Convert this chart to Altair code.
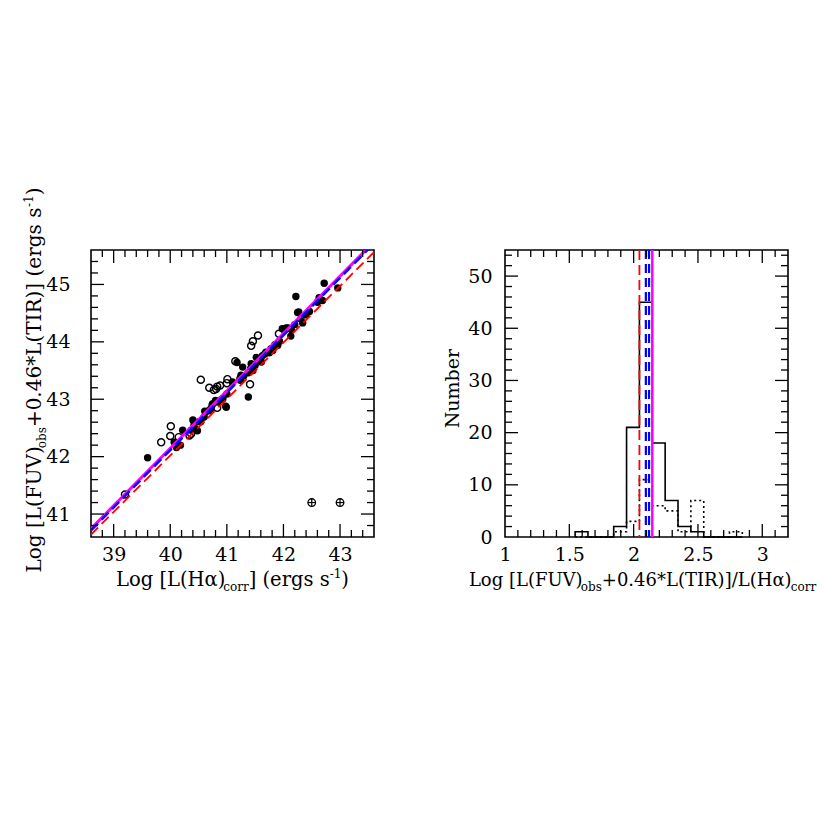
import altair as alt
import pandas as pd

# ---------------- data ----------------
filled_x = [39.60, 40.07, 40.11, 40.12, 40.18, 40.22, 40.37, 40.40, 40.42, 40.46,
            40.48, 40.51, 40.54, 40.60, 40.61, 40.63, 40.68, 40.72, 40.74, 40.75,
            40.80, 40.84, 40.91, 40.93, 40.98, 40.99, 41.00, 41.10, 41.18, 41.24,
            41.25, 41.28, 41.30, 41.38, 41.38, 41.42, 41.43, 41.46, 41.50, 41.52,
            41.55, 41.60, 41.61, 41.63, 41.67, 41.69, 41.75, 41.78, 41.81, 41.85,
            41.90, 41.93, 41.98, 42.05, 42.08, 42.13, 42.14, 42.20, 42.22, 42.25,
            42.27, 42.31, 42.34, 42.40, 42.46, 42.60, 42.63, 42.69, 42.72, 42.96]
filled_y = [41.98, 42.25, 42.16, 42.23, 42.20, 42.46, 42.46, 42.64, 42.55, 42.47,
            42.45, 42.61, 42.61, 42.69, 42.79, 42.78, 42.80, 42.84, 42.90, 42.92,
            42.98, 42.95, 43.00, 43.01, 42.88, 42.86, 43.09, 43.30, 43.64, 43.33,
            43.42, 43.56, 43.41, 43.04, 43.46, 43.53, 43.62, 43.50, 43.59, 43.73,
            43.70, 43.67, 43.65, 43.76, 43.79, 43.82, 43.81, 43.88, 43.85, 43.95,
            43.94, 44.01, 44.23, 44.24, 44.24, 44.10, 44.21, 44.30, 44.79, 44.51,
            44.52, 44.40, 44.33, 44.47, 44.53, 44.69, 44.77, 44.72, 45.02, 44.94]
open_x = [39.20, 39.84, 40.00, 40.01, 40.15, 40.34, 40.37, 40.54, 40.69, 40.77,
          40.81, 40.83, 40.83, 40.88, 41.00, 41.01, 41.15, 41.24, 41.41, 41.43,
          41.46, 41.55, 41.92]
open_y = [41.34, 42.25, 42.36, 42.53, 42.34, 42.37, 42.40, 43.34, 43.20, 43.16,
          43.18, 43.22, 42.85, 43.24, 43.28, 43.35, 43.66, 43.36, 43.26, 43.93,
          44.01, 44.11, 44.14]
errbar_x = [42.5, 43.0]
errbar_y = [41.2, 41.2]
errbar_dx = [0.07, 0.07]
errbar_dy = [0.07, 0.07]

fit_slope = [1.0, 1.0, 0.984]          # magenta, blue, red
fit_intercept = [2.145, 2.115, 2.66]

hist_edges = [1.545, 1.645, 1.745, 1.845, 1.945, 2.045, 2.145, 2.245, 2.345,
              2.445, 2.545, 2.645, 2.745, 2.845]
hist_all = [1, 0, 0, 2, 21, 45, 18, 7, 2, 1, 0, 0, 0]
hist_sub = [0, 0, 0, 1, 3, 11, 6, 5, 1, 7, 0, 0, 1]
ratio_lines = [2.145, 2.12, 2.095, 2.045]   # magenta, blue, blue, red

left_x_ticks = [39, 40, 41, 42, 43]
left_y_ticks = [41, 42, 43, 44, 45]
right_x_ticks = [1, 1.5, 2, 2.5, 3]
right_y_ticks = [0, 10, 20, 30, 40, 50]

# ---------------- styling ----------------
FONT = "DejaVu Serif"
SS = 12
W, H = 283, 287
MAJ, MIN = 13, 7

line_styles = [
    dict(color="#ff00ff", strokeWidth=3),
    dict(color="#0000ff", strokeWidth=2.5, strokeDash=[10, 5]),
    dict(color="#ff0000", strokeWidth=1.8, strokeDash=[10, 5]),
]
vline_styles = [
    dict(color="#ff00ff", strokeWidth=2.5),
    dict(color="#0000ff", strokeWidth=2.2, strokeDash=[9, 5]),
    dict(color="#0000ff", strokeWidth=2.2, strokeDash=[9, 5]),
    dict(color="#ff0000", strokeWidth=1.8, strokeDash=[10, 5]),
]

EM = {' ': 0.318, '(': 0.390, ')': 0.390, '[': 0.390, ']': 0.390, 'L': 0.637,
      'o': 0.602, 'g': 0.640, 'H': 0.837, 'α': 0.659, 'c': 0.560, 'r': 0.478,
      'e': 0.592, 's': 0.513, '-': 0.338, '1': 0.636, 'F': 0.677, 'U': 0.812,
      'V': 0.722, 'b': 0.640, '+': 0.838, '0': 0.636, '.': 0.318, '4': 0.636,
      '6': 0.636, '*': 0.500, 'T': 0.682, 'I': 0.421, 'R': 0.770, '/': 0.337}


def seg_w(t, size):
    return sum(EM.get(ch, 0.6) for ch in t) * size


def title_layers(segs, cx, cy, ts, rotated=False):
    sizes = [ts if k == "n" else SS for _, k in segs]
    total = sum(seg_w(t, s) for (t, _), s in zip(segs, sizes))
    out, off = [], 0.0
    for (t, k), s in zip(segs, sizes):
        shift = 0 if k == "n" else (5 if k == "sub" else -8)
        kw = dict(align="left", baseline="alphabetic", font=FONT, fontSize=s, color="black")
        if rotated:
            x, y = cx + shift, cy + total / 2 - off
            kw["angle"] = 270
        else:
            x, y = cx - total / 2 + off, cy + shift
        out.append(alt.Chart(pd.DataFrame({"t": [t]})).mark_text(**kw).encode(
            x=alt.value(x), y=alt.value(y), text="t:N"))
        off += seg_w(t, s)
    return out


def tick_layers(xmaj, xmin, ymaj, ymin, xs, ys, axx, axy):
    out = []
    for vals, L in ((xmaj, MAJ), (xmin, MIN)):
        base = alt.Chart(pd.DataFrame({"v": vals})).mark_rule(color="black", strokeWidth=1.3)
        xe = alt.X("v:Q", scale=xs, axis=axx)
        out.append(base.encode(x=xe, y=alt.value(H), y2=alt.value(H - L)))
        out.append(base.encode(x=xe, y=alt.value(0), y2=alt.value(L)))
    for vals, L in ((ymaj, MAJ), (ymin, MIN)):
        base = alt.Chart(pd.DataFrame({"v": vals})).mark_rule(color="black", strokeWidth=1.3)
        ye = alt.Y("v:Q", scale=ys, axis=axy)
        out.append(base.encode(y=ye, x=alt.value(0), x2=alt.value(L)))
        out.append(base.encode(y=ye, x=alt.value(W), x2=alt.value(W - L)))
    return out


def frange(a, b, step):
    n = int(round((b - a) / step))
    return [round(a + i * step, 4) for i in range(n + 1)]


# ---------------- left panel ----------------
xs1 = alt.Scale(domain=[38.6, 43.6], nice=False, zero=False)
ys1 = alt.Scale(domain=[40.6, 45.6], nice=False, zero=False)
ax1 = alt.Axis(values=left_x_ticks, title=None, labelPadding=8, format="d")
ay1 = alt.Axis(values=left_y_ticks, title=None, labelPadding=21, format="d")


def X1(f):
    return alt.X(f, scale=xs1, axis=ax1)


def Y1(f):
    return alt.Y(f, scale=ys1, axis=ay1)


filled_df = pd.DataFrame({"x": filled_x, "y": filled_y})
open_df = pd.DataFrame({"x": open_x, "y": open_y})

pts = [
    alt.Chart(filled_df).mark_circle(size=55, color="black", opacity=1).encode(
        x=X1("x:Q"), y=Y1("y:Q")),
    alt.Chart(open_df).mark_point(shape="circle", filled=False, size=50, color="black",
                                  strokeWidth=1.4, opacity=1).encode(
        x=X1("x:Q"), y=Y1("y:Q")),
]
err_df = pd.DataFrame({"x": errbar_x, "y": errbar_y})
err_df["xlo"] = [a - d for a, d in zip(errbar_x, errbar_dx)]
err_df["xhi"] = [a + d for a, d in zip(errbar_x, errbar_dx)]
err_df["ylo"] = [a - d for a, d in zip(errbar_y, errbar_dy)]
err_df["yhi"] = [a + d for a, d in zip(errbar_y, errbar_dy)]
err = [
    alt.Chart(err_df).mark_point(shape="circle", filled=False, size=58, color="black",
                                 strokeWidth=1.3, opacity=1).encode(
        x=X1("x:Q"), y=Y1("y:Q")),
    alt.Chart(err_df).mark_rule(color="black", strokeWidth=1.2).encode(
        x=X1("xlo:Q"), x2="xhi:Q", y=Y1("y:Q")),
    alt.Chart(err_df).mark_rule(color="black", strokeWidth=1.2).encode(
        x=X1("x:Q"), y=Y1("ylo:Q"), y2="yhi:Q"),
]

fit_layers = []
for sl, ic, st in zip(fit_slope, fit_intercept, line_styles):
    dfl = pd.DataFrame({"x": [38.6, 43.6]})
    dfl["y"] = sl * dfl["x"] + ic
    fit_layers.append(alt.Chart(dfl).mark_line(clip=True, **st).encode(
        x=X1("x:Q"), y=Y1("y:Q")))

x1_minor = [v for v in frange(38.8, 43.4, 0.2) if abs(v - round(v)) > 0.01]
y1_minor = [v for v in frange(40.8, 45.4, 0.2) if abs(v - round(v)) > 0.01]

left_titles = title_layers(
    [("Log [L(Hα)", "n"), ("corr", "sub"), ("] (ergs s", "n"), ("-1", "sup"), (")", "n")],
    W / 2, 336, 19.5)
left_titles += title_layers(
    [("Log [L(FUV)", "n"), ("obs", "sub"), ("+0.46*L(TIR)] (ergs s", "n"), ("-1", "sup"), (")", "n")],
    -50, 130, 20, rotated=True)

left = alt.layer(*pts, *err, *fit_layers,
                 *tick_layers(left_x_ticks, x1_minor, left_y_ticks, y1_minor, xs1, ys1, ax1, ay1),
                 *left_titles).properties(width=W, height=H)

# ---------------- right panel ----------------
xs2 = alt.Scale(domain=[1, 3.2], nice=False, zero=False)
ys2 = alt.Scale(domain=[0, 55], nice=False, zero=False)
ax2 = alt.Axis(values=right_x_ticks, title=None, labelPadding=8, format="~g")
ay2 = alt.Axis(values=right_y_ticks, title=None, labelPadding=13, format="d")


def X2(f):
    return alt.X(f, scale=xs2, axis=ax2)


def Y2(f):
    return alt.Y(f, scale=ys2, axis=ay2)


def step_df(edges, counts):
    xs_, ys_ = [edges[0]], [0]
    for e, c in zip(edges[:-1], counts):
        xs_.append(e)
        ys_.append(c)
    xs_.append(edges[-1])
    ys_.append(0)
    return pd.DataFrame({"x": xs_, "y": ys_, "i": list(range(len(xs_)))})


hist_solid = alt.Chart(step_df(hist_edges, hist_all)).mark_line(
    interpolate="step-after", color="black", strokeWidth=1.6).encode(
    x=X2("x:Q"), y=Y2("y:Q"), order=alt.Order("i:Q"))
hist_dot = alt.Chart(step_df(hist_edges, hist_sub)).mark_line(
    interpolate="step-after", color="black", strokeWidth=1.6, strokeDash=[2, 3]).encode(
    x=X2("x:Q"), y=Y2("y:Q"), order=alt.Order("i:Q"))

vlines = []
for v, st in zip(ratio_lines, vline_styles):
    vlines.append(alt.Chart(pd.DataFrame({"v": [v]})).mark_rule(**st).encode(
        x=X2("v:Q"), y=alt.value(0), y2=alt.value(H)))

x2_major = [1.5, 2, 2.5, 3]
x2_minor = [v for v in frange(1.1, 3.1, 0.1) if abs(v * 2 - round(v * 2)) > 0.01]
y2_major = [10, 20, 30, 40, 50]
y2_minor = [v for v in range(2, 55, 2) if v % 10 != 0]

right_titles = title_layers(
    [("Log [L(FUV)", "n"), ("obs", "sub"), ("+0.46*L(TIR)]/L(Hα)", "n"), ("corr", "sub")],
    W / 2 - 4, 336, 18)
right_titles += title_layers([("Number", "n")], -46, 145, 19, rotated=True)

right = alt.layer(hist_solid, hist_dot, *vlines,
                  *tick_layers(x2_major, x2_minor, y2_major, y2_minor, xs2, ys2, ax2, ay2),
                  *right_titles).properties(width=W, height=H)

chart = alt.hconcat(left, right, spacing=131, bounds="flush").properties(
    padding={"left": 14, "top": 178, "right": 0, "bottom": 10}
).configure_view(stroke="black", strokeWidth=1.6).configure_axis(
    labelFont=FONT, labelFontSize=19, labelColor="black", grid=False, ticks=False,
    domain=False, labelOverlap=False, labelFlush=False)

chart.save("out.html", embed_options={"renderer": "svg", "actions": False})
